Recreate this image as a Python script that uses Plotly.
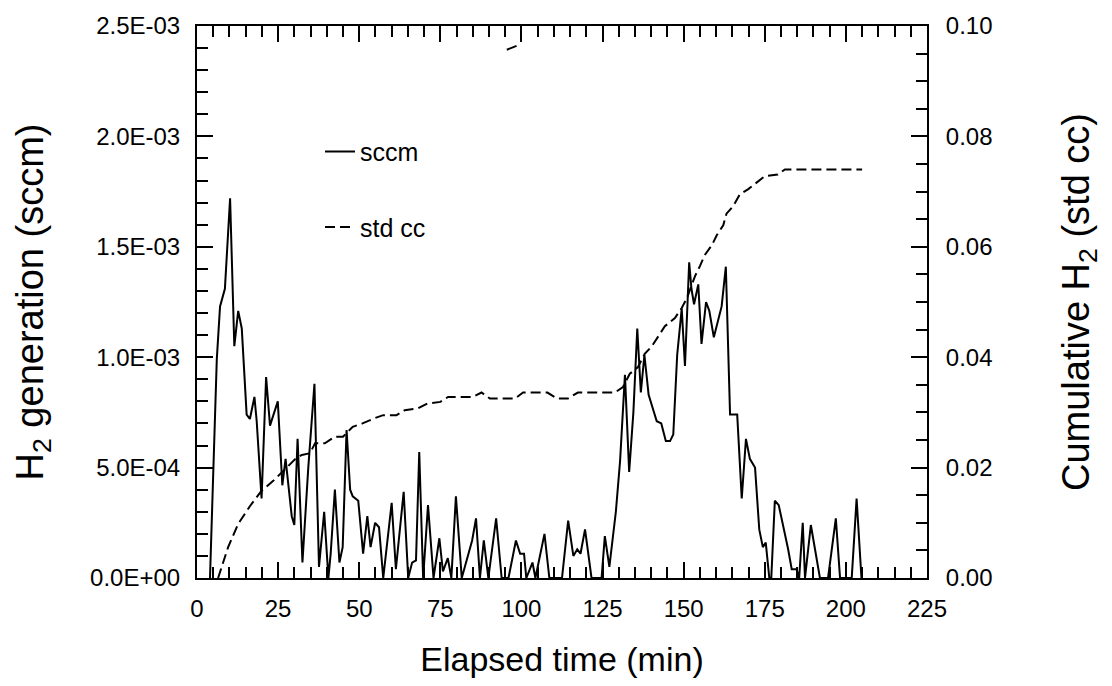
import plotly.graph_objects as go

# ---------------- data ----------------
sccm_t = [4.0, 6.1, 7.1, 8.6, 10.2, 11.5, 12.7, 13.8, 15.3, 16.3, 17.7, 18.4, 19.9, 21.3, 22.5, 24.9,
          26.3, 27.3, 29.2, 30.0, 31.0, 32.5, 34.3, 36.2, 37.6, 39.2, 40.5, 41.2, 42.5, 43.9, 44.9,
          46.1, 47.2, 48.0, 49.7, 51.2, 52.5, 53.5, 54.9, 56.1, 57.4, 60.0, 61.3, 63.7, 65.1, 66.3,
          67.5, 68.5, 69.7, 71.2, 72.9, 74.7, 75.8, 77.3, 78.4, 79.8, 81.6, 83.6, 84.8, 86.0, 87.2,
          88.4, 89.8, 92.2, 93.9, 96.0, 98.3, 99.6, 100.8, 101.5, 103.4, 104.3, 107.1, 108.6, 112.5,
          114.4, 116.0, 117.2, 118.2, 119.6, 121.1, 121.6, 124.7, 125.7, 127.1, 129.1, 130.4, 131.9,
          133.2, 134.5, 135.7, 136.8, 137.9, 139.2, 141.7, 143.1, 144.5, 145.8, 146.8, 148.0, 149.4,
          150.4, 151.7, 152.4, 153.2, 154.5, 155.5, 156.9, 157.9, 159.3, 161.7, 163.0, 164.3, 166.5,
          167.9, 169.2, 170.4, 172.0, 173.3, 174.4, 175.3, 176.4, 177.0, 178.1, 179.3, 180.7, 182.2,
          183.3, 184.8, 185.6, 186.7, 187.4, 189.2, 192.0, 194.5, 196.9, 198.2, 201.8, 203.3, 204.8]
sccm_v = [0.0, 0.99, 1.23, 1.31, 1.72, 1.05, 1.21, 1.13, 0.74, 0.72, 0.82, 0.71, 0.36, 0.91, 0.69, 0.80,
          0.42, 0.54, 0.28, 0.24, 0.63, 0.07, 0.50, 0.88, 0.05, 0.30, 0.0, 0.11, 0.40, 0.07, 0.14,
          0.67, 0.40, 0.37, 0.35, 0.11, 0.28, 0.14, 0.25, 0.23, 0.0, 0.34, 0.04, 0.39, 0.0, 0.07,
          0.08, 0.57, 0.0, 0.33, 0.0, 0.18, 0.03, 0.09, 0.0, 0.37, 0.0, 0.10, 0.17, 0.27, 0.0,
          0.17, 0.0, 0.27, 0.0, 0.0, 0.17, 0.11, 0.11, 0.0, 0.07, 0.0, 0.20, 0.0, 0.0,
          0.26, 0.10, 0.13, 0.11, 0.22, 0.05, 0.0, 0.0, 0.19, 0.05, 0.30, 0.53, 0.92,
          0.48, 0.75, 1.13, 0.84, 1.01, 0.83, 0.71, 0.70, 0.62, 0.62, 0.65, 1.01, 1.22,
          0.96, 1.43, 1.31, 1.24, 1.33, 1.06, 1.25, 1.21, 1.09, 1.23, 1.41, 0.74, 0.74,
          0.36, 0.63, 0.54, 0.50, 0.22, 0.14, 0.16, 0.0, 0.0, 0.35, 0.33, 0.24, 0.13,
          0.04, 0.04, 0.0, 0.25, 0.0, 0.24, 0.0, 0.0, 0.27, 0.0, 0.0, 0.36, 0.0]
sccm_v = [v * 1e-3 for v in sccm_v]

cum_t = [6.5, 9.6, 12.7, 16.3, 19.9, 23.5, 26.6, 30.2, 32.3, 34.8, 36.4, 39.4, 42.5, 45.0, 48.0, 51.0,
         55.0, 57.4, 61.5, 64.0, 68.0, 71.0, 75.0, 77.4, 85.0, 87.7, 90.3, 98.0, 100.5, 108.0, 111.0,
         114.3, 117.4, 128.8, 131.3, 133.4, 135.9, 138.0, 140.2, 142.0, 144.2, 147.3, 149.4, 151.0,
         153.5, 155.0, 156.5, 158.7, 160.2, 162.2, 163.2, 165.3, 167.3, 169.8, 172.5, 175.0, 179.0,
         181.2, 205.0]
cum_v = [0.0, 0.0056, 0.0098, 0.0130, 0.0158, 0.0176, 0.0194, 0.0215, 0.0223, 0.0226, 0.0244, 0.0244,
         0.0256, 0.0256, 0.0274, 0.0280, 0.0290, 0.0295, 0.0295, 0.0304, 0.0307, 0.0316, 0.0319, 0.0328,
         0.0328, 0.0336, 0.0325, 0.0325, 0.0336, 0.0336, 0.0325, 0.0325, 0.0336, 0.0336, 0.0346, 0.0370,
         0.0382, 0.0406, 0.0420, 0.0437, 0.0456, 0.0471, 0.0489, 0.0507, 0.0547, 0.0565, 0.0585, 0.0603,
         0.0621, 0.0639, 0.0660, 0.0674, 0.0695, 0.0704, 0.0717, 0.0728, 0.0731, 0.0740, 0.0740]

stray_t = [95.5, 98.5]
stray_v = [0.0957, 0.0964]

left_tickvals = [0, 0.0005, 0.001, 0.0015, 0.002, 0.0025]
left_ticktext = ["0.0E+00", "5.0E-04", "1.0E-03", "1.5E-03", "2.0E-03", "2.5E-03"]
right_tickvals = [0, 0.02, 0.04, 0.06, 0.08, 0.1]
x_tickvals = [0, 25, 50, 75, 100, 125, 150, 175, 200, 225]

# ---------------- figure ----------------
FONT = "Liberation Sans, Arial, sans-serif"
TICK_SIZE = 24
XTITLE_SIZE = 34
YTITLE_SIZE = 38

fig = go.Figure()
fig.add_trace(go.Scatter(x=sccm_t, y=sccm_v, mode="lines", name="sccm",
                         line=dict(color="black", width=2), legendgroup="a"))
fig.add_trace(go.Scatter(x=cum_t, y=cum_v, mode="lines", name="std cc", yaxis="y2",
                         line=dict(color="black", width=2, dash="10px,5px"), legendgroup="b"))
fig.add_trace(go.Scatter(x=stray_t, y=stray_v, mode="lines", yaxis="y2", showlegend=False,
                         line=dict(color="black", width=2)))

axis_common = dict(showline=True, linecolor="black", linewidth=2, ticks="inside",
                   tickcolor="black", tickwidth=2, ticklen=16, showgrid=False, zeroline=False,
                   tickfont=dict(family=FONT, size=TICK_SIZE, color="black"))
minor_common = dict(tickmode="linear", tick0=0, ticks="inside", ticklen=11,
                    tickcolor="black", tickwidth=2)

fig.update_layout(
    width=1112, height=686,
    margin=dict(l=197, r=185, t=20, b=108),
    paper_bgcolor="white", plot_bgcolor="white",
    font=dict(family=FONT, color="black"),
    showlegend=True,
    legend=dict(x=0.1685, y=0.814, xanchor="left", yanchor="top", bgcolor="rgba(0,0,0,0)",
                font=dict(family=FONT, size=25, color="black"), tracegroupgap=40),
    xaxis=dict(range=[0, 225], tickvals=x_tickvals, mirror="ticks", ticklabelstandoff=8,
               minor=dict(dtick=5, **minor_common),
               title=dict(text="Elapsed time (min)",
                          font=dict(family=FONT, size=XTITLE_SIZE, color="black"), standoff=26),
               **axis_common),
    yaxis=dict(range=[0, 0.0025], tickvals=left_tickvals, ticktext=left_ticktext,
               ticklabelstandoff=10,
               minor=dict(dtick=0.0001, **minor_common),
               title=dict(text="H<sub>2</sub> generation (sccm)",
                          font=dict(family=FONT, size=YTITLE_SIZE, color="black"), standoff=35),
               **axis_common),
    yaxis2=dict(range=[0, 0.1], overlaying="y", side="right", tickformat=".2f",
                tickvals=right_tickvals, ticklabelstandoff=12,
                minor=dict(dtick=0.005, **minor_common),
                title=dict(text="Cumulative H<sub>2</sub> (std cc)",
                           font=dict(family=FONT, size=YTITLE_SIZE, color="black"), standoff=71),
                **axis_common),
)

fig.write_html("out.html")
